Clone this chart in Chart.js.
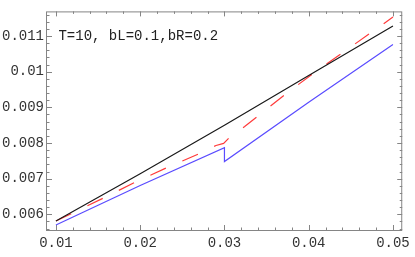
<!DOCTYPE html>
<html>
<head>
<meta charset="utf-8">
<script src="https://cdn.jsdelivr.net/npm/chart.js@4.4.1/dist/chart.umd.min.js"></script>
<style>
  html, body { margin: 0; padding: 0; background: #fff; }
  #wrap { width: 415px; height: 257px; }
</style>
</head>
<body>
<div id="wrap"><canvas id="plot"></canvas></div>
<script>
// curve values
var blackX = [0.01, 0.02, 0.03, 0.04, 0.05];
var blackY = [0.00581, 0.00714, 0.00850, 0.00989, 0.01128];

var blueX = [0.01, 0.02, 0.03, 0.03, 0.04, 0.05];
var blueY = [0.00570, 0.00681, 0.00787, 0.00748, 0.00914, 0.01076];

var redX = [0.01, 0.0155, 0.0194, 0.0231, 0.027, 0.029, 0.0299, 0.0307, 0.0324, 0.0373, 0.0407, 0.0442, 0.0476, 0.050];
var redY = [0.00581, 0.00644, 0.00690, 0.00730, 0.00770, 0.00793, 0.00799, 0.00818, 0.00846, 0.00938, 0.00998, 0.01056, 0.01113, 0.01153];

var xTicks = [0.01, 0.02, 0.03, 0.04, 0.05];
var xTickLabels = ['0.01', '0.02', '0.03', '0.04', '0.05'];
var yTicks = [0.006, 0.007, 0.008, 0.009, 0.010, 0.011];
var yTickLabels = ['0.006', '0.007', '0.008', '0.009', '0.01', '0.011'];

var note = 'T=10, bL=0.1,bR=0.2';
var monoFont = '"Liberation Mono", monospace';

function pts(xs, ys) {
  return xs.map(function(x, i) { return { x: x, y: ys[i] }; });
}

// frame with inward ticks on all four sides, like the original
var framePlugin = {
  id: 'frame',
  beforeDatasetsDraw: function(chart) {
    var ctx = chart.ctx, a = chart.chartArea;
    var xs = chart.scales.x, ys = chart.scales.y;
    ctx.save();
    ctx.strokeStyle = '#858585';
    ctx.lineWidth = 1;
    ctx.strokeRect(a.left - 0.5, a.top + 0.5, a.right - a.left, a.bottom - a.top);
    ctx.beginPath();
    var i, v, p, len;
    for (i = 0; i <= 24; i++) {
      v = 0.008 + i * 0.002;
      if (v < xs.min || v > xs.max) continue;
      p = Math.round(xs.getPixelForValue(v)) + 0.5;
      len = (i % 5 === 1) ? 5 : 2.5;
      ctx.moveTo(p, a.bottom); ctx.lineTo(p, a.bottom - len);
      ctx.moveTo(p, a.top); ctx.lineTo(p, a.top + len);
    }
    for (i = 0; i <= 40; i++) {
      v = 0.0050 + i * 0.0002;
      if (v < ys.min || v > ys.max) continue;
      p = Math.round(ys.getPixelForValue(v)) + 0.5;
      len = (i % 5 === 0) ? 5 : 2.5;
      ctx.moveTo(a.left, p); ctx.lineTo(a.left + len, p);
      ctx.moveTo(a.right, p); ctx.lineTo(a.right - len, p);
    }
    ctx.stroke();
    ctx.restore();
  },
  afterDatasetsDraw: function(chart) {
    var ctx = chart.ctx;
    ctx.save();
    ctx.font = '14px ' + monoFont;
    ctx.fillStyle = '#222';
    ctx.textBaseline = 'middle';
    ctx.fillText(note, chart.scales.x.getPixelForValue(0.0103), chart.scales.y.getPixelForValue(0.011) + 0.5);
    ctx.restore();
  }
};

var plotCtx = document.getElementById('plot').getContext('2d');
var plot = new Chart(plotCtx, {
  type: 'line',
  data: {
    datasets: [
      { data: pts(blackX, blackY), borderColor: '#1a1a1a', borderWidth: 1.2 },
      { data: pts(redX, redY), borderColor: '#ff3a3a', borderWidth: 1.2, borderDash: [17, 18] },
      { data: pts(blueX, blueY), borderColor: '#5a4cff', borderWidth: 1.2 }
    ]
  },
  options: {
    responsive: true,
    maintainAspectRatio: false,
    animation: false,
    layout: { padding: { left: 0, right: 9, top: 8, bottom: 0 } },
    elements: { point: { radius: 0 }, line: { tension: 0 } },
    plugins: { legend: { display: false }, tooltip: { enabled: false } },
    scales: {
      x: {
        type: 'linear',
        min: 0.00894,
        max: 0.0511,
        grid: { display: false, drawTicks: false },
        border: { display: false },
        afterBuildTicks: function(s) { s.ticks = xTicks.map(function(v) { return { value: v }; }); },
        afterFit: function(s) { s.height = 27; },
        ticks: {
          padding: 5,
          color: '#333',
          maxRotation: 0,
          font: { family: monoFont, size: 14 },
          callback: function(v, i) { return xTickLabels[i]; }
        }
      },
      y: {
        type: 'linear',
        min: 0.00556,
        max: 0.01169,
        grid: { display: false, drawTicks: false },
        border: { display: false },
        afterBuildTicks: function(s) { s.ticks = yTicks.map(function(v) { return { value: v }; }); },
        afterFit: function(s) { s.width = 47; },
        ticks: {
          padding: 3,
          color: '#333',
          font: { family: monoFont, size: 14 },
          callback: function(v, i) { return yTickLabels[i]; }
        }
      }
    }
  },
  plugins: [framePlugin]
});
</script>
</body>
</html>
